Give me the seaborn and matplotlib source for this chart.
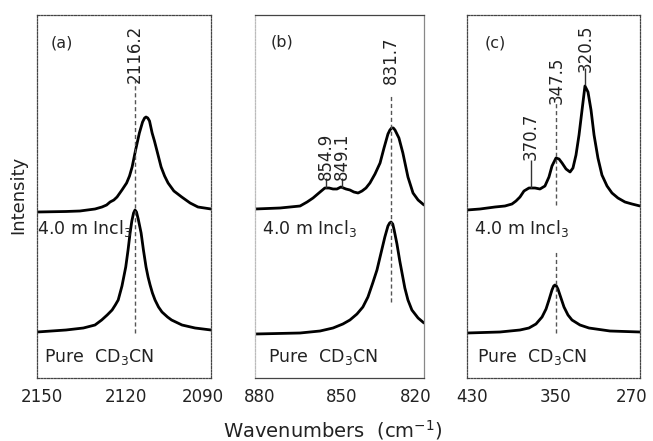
import numpy as np
import pandas as pd
import matplotlib
matplotlib.use("Agg")
import matplotlib.pyplot as plt
import matplotlib.transforms as mtransforms
import seaborn as sns

# C-N stretch region, panel (a)
wn_a_top = [2150.0, 2140.0, 2135.2, 2130.0, 2127.6, 2126.0, 2124.8, 2123.5, 2122.4, 2120.7,
            2119.1, 2118.1, 2117.2, 2116.0, 2114.7, 2113.6, 2112.9, 2112.4, 2111.8, 2111.2,
            2110.3, 2109.5, 2108.7, 2107.2, 2106.0, 2104.8, 2102.8, 2100.1, 2097.2, 2094.5,
            2090.0]
int_a_top = [1.66, 1.665, 1.67, 1.69, 1.71, 1.73, 1.76, 1.78, 1.81, 1.88,
             1.95, 2.02, 2.11, 2.28, 2.45, 2.56, 2.60, 2.61, 2.60, 2.57,
             2.45, 2.37, 2.28, 2.11, 2.02, 1.95, 1.87, 1.81, 1.75, 1.71,
             1.69]
wn_a_bot = [2150.0, 2140.0, 2134.0, 2130.0, 2127.7, 2125.8, 2124.1, 2123.0, 2122.0, 2120.7,
            2119.4, 2118.6, 2117.9, 2117.3, 2116.7, 2116.2, 2115.7, 2115.1, 2114.1, 2113.3,
            2112.4, 2111.7, 2111.0, 2110.2, 2109.3, 2108.1, 2106.9, 2105.0, 2103.6, 2100.0,
            2095.5, 2090.0]
int_a_bot = [0.46, 0.48, 0.50, 0.53, 0.58, 0.63, 0.68, 0.73, 0.78, 0.92,
             1.11, 1.28, 1.45, 1.57, 1.65, 1.68, 1.66, 1.59, 1.45, 1.28,
             1.11, 1.01, 0.93, 0.85, 0.78, 0.71, 0.66, 0.61, 0.58, 0.53,
             0.50, 0.48]

# C-C stretch region, panel (b)
wn_b_top = [880.0, 871.1, 864.0, 861.5, 859.4, 856.9, 855.2, 853.7, 852.3, 850.9,
            849.5, 847.7, 846.3, 844.9, 843.4, 842.0, 840.6, 839.2, 837.4, 835.6,
            834.2, 832.8, 832.1, 831.5, 830.9, 830.3, 828.9, 827.5, 825.7, 823.9,
            822.1, 820.0]
int_b_top = [1.69, 1.70, 1.72, 1.76, 1.80, 1.86, 1.90, 1.90, 1.89, 1.89,
             1.91, 1.89, 1.88, 1.86, 1.85, 1.87, 1.90, 1.95, 2.04, 2.15,
             2.30, 2.44, 2.48, 2.50, 2.50, 2.48, 2.40, 2.25, 2.01, 1.85,
             1.78, 1.73]
wn_b_bot = [880.0, 864.0, 856.9, 852.3, 848.8, 846.3, 843.8, 841.7, 839.9, 838.2,
            836.7, 835.6, 833.9, 832.8, 832.2, 831.7, 831.1, 830.6, 829.6, 828.6,
            826.8, 825.7, 824.3, 822.1, 820.0]
int_b_bot = [0.44, 0.45, 0.47, 0.50, 0.54, 0.58, 0.64, 0.71, 0.81, 0.95,
             1.08, 1.21, 1.41, 1.52, 1.55, 1.56, 1.54, 1.48, 1.34, 1.17,
             0.90, 0.78, 0.68, 0.60, 0.55]

# C-C-N bend region, panel (c)
wn_c_top = [430.0, 418.0, 404.1, 394.9, 388.4, 384.7, 381.0, 377.3, 372.7, 367.1,
            362.5, 357.9, 354.2, 351.4, 347.7, 344.9, 342.1, 338.4, 334.7, 332.0,
            329.2, 326.4, 323.6, 320.9, 318.1, 315.3, 312.5, 308.9, 305.2, 300.5,
            295.9, 290.4, 283.9, 277.4, 270.0]
int_c_top = [1.68, 1.69, 1.71, 1.72, 1.74, 1.77, 1.81, 1.87, 1.90, 1.90,
             1.89, 1.92, 2.01, 2.12, 2.20, 2.19, 2.15, 2.09, 2.06, 2.10,
             2.23, 2.43, 2.68, 2.92, 2.86, 2.68, 2.43, 2.20, 2.03, 1.92,
             1.85, 1.80, 1.76, 1.74, 1.72]
wn_c_bot = [430.0, 399.5, 381.0, 372.7, 366.2, 360.6, 356.9, 354.2, 351.4, 349.8,
            348.6, 347.3, 345.9, 343.1, 340.3, 336.6, 332.9, 325.5, 317.2, 297.8,
            270.0]
int_c_bot = [0.45, 0.46, 0.48, 0.50, 0.54, 0.61, 0.69, 0.78, 0.88, 0.92,
             0.93, 0.92, 0.89, 0.80, 0.71, 0.63, 0.58, 0.53, 0.50, 0.47,
             0.46]

ticks_a = [2150, 2120, 2090]
ticks_b = [880, 850, 820]
ticks_c = [430, 350, 270]
peak_a = 2116.2
peaks_b_small = [854.9, 849.1]
peak_b = 831.7
peak_c_small = 370.7
peak_c_mid = 347.5
peak_c_big = 320.5

sns.set_style("white")
plt.rcParams["font.family"] = ["DejaVu Sans"]
plt.rcParams["mathtext.fontset"] = "dejavusans"

fig = plt.figure(figsize=(6.53, 4.41), dpi=100)
bottom = 1 - 378 / 441
height = 363 / 441
ax_a = fig.add_axes([37 / 653, bottom, 174 / 653, height])
ax_b = fig.add_axes([255 / 653, bottom, 169 / 653, height])
ax_c = fig.add_axes([467 / 653, bottom, 173 / 653, height])


def draw(ax, wn, vals):
    df = pd.DataFrame({"wn": wn, "I": vals})
    sns.lineplot(data=df, x="wn", y="I", ax=ax, color="black", lw=2.0,
                 estimator=None, sort=False, solid_joinstyle="round")


def shift(label, dx):
    # nudge a tick label sideways by dx pixels
    off = mtransforms.ScaledTranslation(dx / 100, 0, fig.dpi_scale_trans)
    label.set_transform(label.get_transform() + off)


for ax, curves, ticks in [
    (ax_a, [(wn_a_top, int_a_top), (wn_a_bot, int_a_bot)], ticks_a),
    (ax_b, [(wn_b_top, int_b_top), (wn_b_bot, int_b_bot)], ticks_b),
    (ax_c, [(wn_c_top, int_c_top), (wn_c_bot, int_c_bot)], ticks_c),
]:
    for wn, vals in curves:
        draw(ax, wn, vals)
    ax.set_xlim(ticks[0], ticks[-1])
    ax.set_ylim(0, 3.63)
    ax.set_xticks(ticks)
    ax.set_xticklabels([str(t) for t in ticks], fontsize=12, color="#222222")
    ax.tick_params(axis="x", length=0, pad=7)
    ax.set_yticks([])
    ax.set_xlabel("")
    ax.set_ylabel("")
    labels = ax.get_xticklabels()
    shift(labels[0], 5)
    shift(labels[1], 2)
    shift(labels[-1], -8)
    for sp in ax.spines.values():
        sp.set_color("#444444")
        sp.set_linewidth(0.9)

for ax in (ax_a, ax_c):
    for sp in ax.spines.values():
        sp.set_linestyle((0, (1.5, 1.2)))
ax_b.spines["left"].set_color("#bbbbbb")
ax_b.spines["left"].set_linestyle((0, (1.5, 1.2)))
ax_b.spines["right"].set_color("#888888")

dash = dict(color="#555555", lw=1.0, linestyles=(0, (3, 2)))
tick = dict(color="#333333", lw=1.0)
lab = dict(fontsize=12, rotation=90, ha="center", va="center", color="#222222")

# panel (a)
ax_a.vlines(peak_a, 0.45, 2.98, **dash)
ax_a.text(peak_a, 3.24, f"{peak_a:.1f}", **lab)
ax_a.text(2141.4, 3.35, "(a)", fontsize=11.5, ha="center", va="center")

# panel (b)
ax_b.vlines(peak_b, 0.76, 2.82, **dash)
ax_b.text(peak_b, 3.18, f"{peak_b:.1f}", **lab)
for p in peaks_b_small:
    ax_b.vlines(p, 1.90, 2.00, **tick)
    ax_b.text(p, 2.22, f"{p:.1f}", **lab)
ax_b.text(870.4, 3.36, "(b)", fontsize=11.5, ha="center", va="center")

# panel (c)
ax_c.vlines(peak_c_big, 2.93, 3.10, **tick)
ax_c.text(peak_c_big, 3.30, f"{peak_c_big:.1f}", **lab)
ax_c.vlines(peak_c_mid, 1.73, 2.75, **dash)
ax_c.vlines(peak_c_mid, 0.45, 1.28, **dash)
ax_c.text(peak_c_mid, 2.98, f"{peak_c_mid:.1f}", **lab)
ax_c.vlines(peak_c_small, 1.90, 2.18, **tick)
ax_c.text(peak_c_small, 2.42, f"{peak_c_small:.1f}", **lab)
ax_c.text(404.1, 3.35, "(c)", fontsize=11.5, ha="center", va="center")

# sample labels
for ax, x_in, x_pure in [(ax_a, 2150.0, 2147.6), (ax_b, 877.5, 875.4), (ax_c, 423.5, 420.8)]:
    ax.text(x_in, 1.49, r"4.0 m Incl$_3$", fontsize=12.5, ha="left", va="center",
            color="#222222")
    ax.text(x_pure, 0.21, r"Pure  CD$_3$CN", fontsize=12.5, ha="left", va="center",
            color="#222222")

fig.text(333 / 653, 1 - 430 / 441, r"Wavenumbers  (cm$^{-1}$)", fontsize=14,
         ha="center", va="center", color="#222222")
fig.text(18 / 653, 1 - 195 / 441, "Intensity", fontsize=13, rotation=90,
         ha="center", va="center", color="#222222")

fig.savefig("out.png", dpi=100, facecolor="white")
